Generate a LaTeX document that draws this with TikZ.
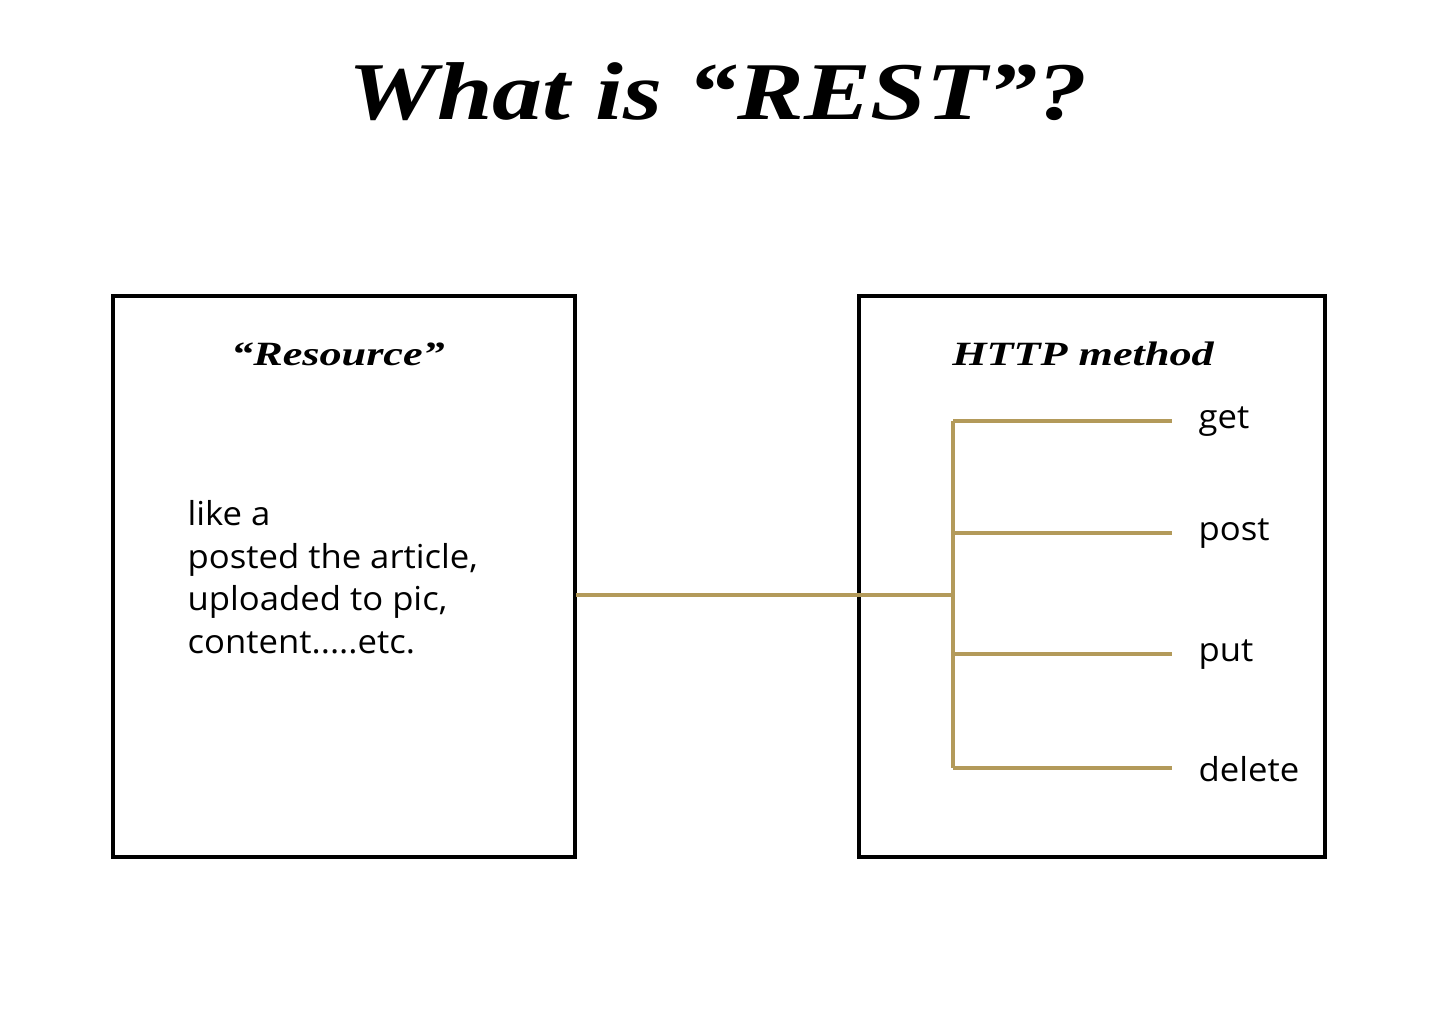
\documentclass[tikz,border=0pt]{standalone}
\usepackage{fontspec}
\setmainfont{Liberation Serif}
\newfontfamily\bodyf{Open Sans}
\definecolor{gold}{HTML}{B39A5A}
\begin{document}
\begin{tikzpicture}[x=1pt,y=-1pt,
  box/.style={draw=black,line width=4pt},
  br/.style={draw=gold,line width=4pt},
  lab/.style={font=\bodyf\fontsize{33}{42}\selectfont,anchor=west,xscale=1.05},
  head/.style={font=\bfseries\itshape\fontsize{34}{40}\selectfont,xscale=1.3}]
\useasboundingbox (0,0) rectangle (1440,1024);
\node[font=\bfseries\itshape\fontsize{82}{90}\selectfont,xscale=1.22] (title) at (718,92) {What is “REST”?};
\draw[box] (113,296) rectangle (575,857);
\draw[box] (859,296) rectangle (1325,857);
\node[head] (res) at (338,354) {“Resource”};
\node[head] (http) at (1083,354) {HTTP method};
\node[anchor=north west,align=left,font=\bodyf\fontsize{33}{42.5}\selectfont,xscale=1.05] (body) at (184,497) {like a\\posted the article,\\uploaded to pic,\\content.....etc.};
\coordinate (s) at (576,595);
\coordinate (j) at (953,595);
\coordinate (t) at (953,421);
\coordinate (b) at (953,768);
\draw[br] (s) -- (j);
\draw[br] (t) -- (b);
\foreach \y/\n/\t in {421/get/get,533/post/post,654/put/put,768/del/delete}{
  \coordinate (a\n) at (953,\y);
  \node[lab] (\n) at (1195,\y+1) {\t};
  \draw[br] (a\n) -- (1172,\y);
}
\end{tikzpicture}
\end{document}
